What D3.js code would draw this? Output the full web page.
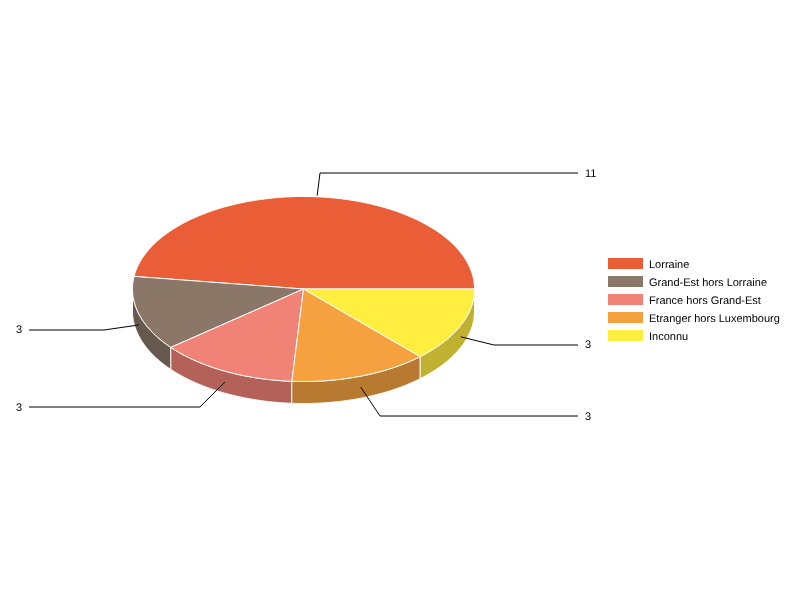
<!DOCTYPE html>
<html>
<head>
<meta charset="utf-8">
<script src="https://cdn.jsdelivr.net/npm/d3@7"></script>
<style>
  html, body { margin: 0; padding: 0; background: #fff; }
  svg { display: block; }
  text { font-family: "Liberation Sans", Arial, sans-serif; font-size: 11px; fill: #000; text-rendering: geometricPrecision; filter: grayscale(1); }
</style>
</head>
<body>
<svg id="chart" width="800" height="600"></svg>
<script>
const categories = ["Lorraine", "Grand-Est hors Lorraine", "France hors Grand-Est", "Etranger hors Luxembourg", "Inconnu"]
const values = [11, 3, 3, 3, 3]
const colors = ["#e95d37", "#8a7768", "#f08376", "#f5a140", "#ffed40"]

// label leader lines: knot position, which side the label goes, nudges
const knotX = [320, 104, 200, 380, 494]
const knotY = [173, 330, 407, 416, 345]
const labelSide = [1, -1, -1, 1, 1]
const startNudgeX = [2, 0, 0, 0, 0.5]
const startNudgeY = [-1, 0, 0, 0, 0]
const labelNudgeY = [0, -0.7, 0, 0, -0.7]

const width = 800
const height = 600
const cx = 303.5
const cy = 289
const rx = 171
const ry = 92.5
const depth = 22

const svg = d3.select("#chart").attr("viewBox", `0 0 ${width} ${height}`)

const pie = d3.pie().sort(null).startAngle(Math.PI / 2).endAngle(Math.PI / 2 - 2 * Math.PI)
const slices = pie(values).map((d, i) => ({
	name: categories[i],
	color: colors[i],
	value: d.value,
	a0: Math.min(d.startAngle, d.endAngle),
	a1: Math.max(d.startAngle, d.endAngle),
	index: i,
}))

const pt = (a, dy = 0) => [cx + rx * Math.sin(a), cy - ry * Math.cos(a) + dy]

const arcPoints = (a0, a1, dy = 0) => {
	const n = Math.max(2, Math.ceil(Math.abs(a1 - a0) * 60))
	return d3.range(n + 1).map(k => pt(a0 + ((a1 - a0) * k) / n, dy))
}
const line = d3.line()

// normalise to 0..2PI so the front wall is the part between PI/2 and 3PI/2
const norm = a => ((a % (2 * Math.PI)) + 2 * Math.PI) % (2 * Math.PI)

const sideGroup = svg.append("g")
const topGroup = svg.append("g")
const lineGroup = svg.append("g")
const labelGroup = svg.append("g")
const legendGroup = svg.append("g")

// front walls
slices
	.map(s => {
		const start = norm(s.a0)
		const end = start + (s.a1 - s.a0)
		return { ...s, wall0: Math.max(start, Math.PI / 2), wall1: Math.min(end, (3 * Math.PI) / 2) }
	})
	.filter(s => s.wall1 > s.wall0)
	.forEach(s => {
		const pts = arcPoints(s.wall0, s.wall1).concat(arcPoints(s.wall1, s.wall0, depth))
		sideGroup
			.append("path")
			.attr("d", line(pts) + "Z")
			.attr("fill", d3.rgb(s.color).darker(0.8))
			.attr("stroke", "#fff")
			.attr("stroke-width", 1)
			.attr("stroke-opacity", 0.9)
	})

slices.forEach(s => {
	const pts = [[cx, cy]].concat(arcPoints(s.a0, s.a1))
	topGroup
		.append("path")
		.attr("d", line(pts) + "Z")
		.attr("fill", s.color)
		.attr("stroke", "#fff")
		.attr("stroke-width", 1)
		.attr("stroke-linejoin", "round")
})

slices.forEach((s, i) => {
	const mid = (s.a0 + s.a1) / 2
	const front = Math.cos(mid) < 0
	const p = pt(mid, front ? depth / 2 : 0)
	const start = [p[0] + startNudgeX[i], p[1] + startNudgeY[i]]
	const side = labelSide[i]
	const endX = side > 0 ? 578 : 29
	lineGroup
		.append("path")
		.attr("d", line([start, [knotX[i], knotY[i]], [endX, knotY[i]]]))
		.attr("fill", "none")
		.attr("stroke", "#000")
		.attr("stroke-width", 1)
	labelGroup
		.append("text")
		.attr("x", side > 0 ? 585 : 22)
		.attr("y", knotY[i] + labelNudgeY[i])
		.attr("dy", "0.35em")
		.attr("text-anchor", side > 0 ? "start" : "end")
		.text(s.value)
})

const legendY = d3.scalePoint().domain(categories).range([263.5, 335.5])
const legendRow = legendGroup
	.selectAll("g")
	.data(slices)
	.join("g")
	.attr("transform", d => `translate(608,${legendY(d.name)})`)
legendRow
	.append("rect")
	.attr("y", -5.5)
	.attr("width", 35)
	.attr("height", 11)
	.attr("fill", d => d.color)
legendRow
	.append("text")
	.attr("x", 41)
	.attr("y", 0.5)
	.attr("dy", "0.35em")
	.text(d => d.name)
</script>
</body>
</html>
